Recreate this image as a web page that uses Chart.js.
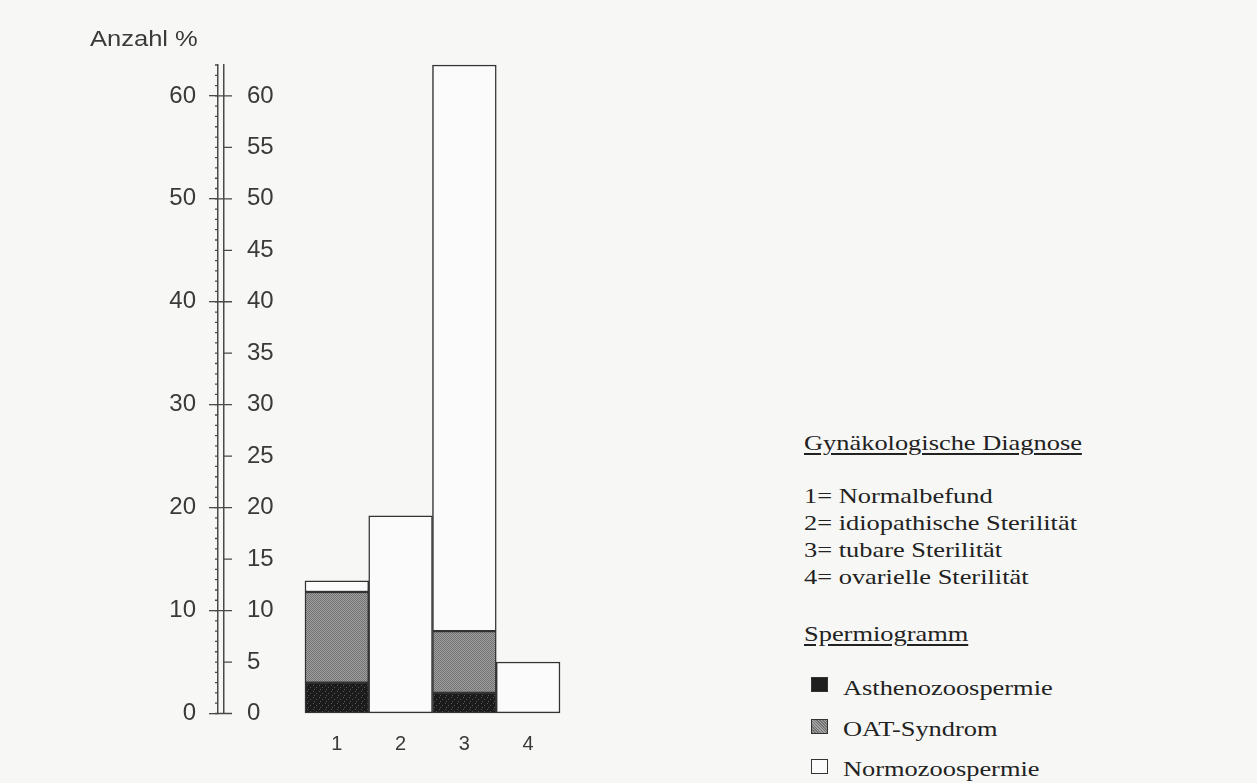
<!DOCTYPE html>
<html>
<head>
  <title>Spermiogramm nach gynäkologischer Diagnose</title>
  <script src="https://cdn.jsdelivr.net/npm/chart.js"></script>
  <style>
    body {
      margin: 0;
      background: #f7f7f5;
      width: 1257px;
      height: 783px;
      position: relative;
      overflow: hidden;
    }
    #wrap {
      position: absolute;
      left: 0;
      top: 0;
      width: 620px;
      height: 783px;
    }
    #yTitle {
      position: absolute;
      left: 90px;
      top: 28px;
      font: 22px 'Liberation Sans', Arial, sans-serif;
      line-height: 22px;
      color: #3a3a3a;
      transform: scaleX(1.16);
      transform-origin: left top;
    }
    .leg {
      position: absolute;
      left: 804px;
      font: 22px 'Liberation Serif', 'Times New Roman', serif;
      line-height: 22px;
      color: #222;
      white-space: nowrap;
      transform: scaleX(1.2);
      transform-origin: left top;
    }
    .head { text-decoration: underline; text-underline-offset: 3px; }
    .sq {
      position: absolute;
      left: 811px;
      width: 15px;
      height: 13px;
      border: 1.5px solid #333;
    }
  </style>
</head>
<body>

<div id="wrap"><canvas id="chart"></canvas></div>
<div id="yTitle">Anzahl %</div>

<div class="leg head" style="top:432px">Gynäkologische Diagnose</div>
<div class="leg" style="top:485px">1= Normalbefund</div>
<div class="leg" style="top:512px">2= idiopathische Sterilität</div>
<div class="leg" style="top:539px">3= tubare Sterilität</div>
<div class="leg" style="top:566px">4= ovarielle Sterilität</div>
<div class="leg head" style="top:623px">Spermiogramm</div>

<div class="sq" style="top:677px; background:#1e1e1e"></div>
<div class="leg" style="top:677px; left:843px">Asthenozoospermie</div>
<div class="sq" style="top:719px; background:repeating-linear-gradient(45deg,#747474 0 1px,#a2a2a2 1px 2px)"></div>
<div class="leg" style="top:718px; left:843px">OAT-Syndrom</div>
<div class="sq" style="top:759px; background:#fbfbfb"></div>
<div class="leg" style="top:758px; left:843px">Normozoospermie</div>

<script>
  // Gynäkologische Diagnose 1..4
  const categories = [1, 2, 3, 4];
  const categoryLabels = ['1', '2', '3', '4'];

  // Spermiogramm, Anzahl %
  const asthenoValues = [3.0, null, 2.0, null];
  const oatValues = [8.8, null, 6.0, null];
  const normoValues = [1.1, 19.2, 55.0, 5.0];

  const outerTicks = [0, 10, 20, 30, 40, 50, 60];
  const innerTicks = [0, 5, 10, 15, 20, 25, 30, 35, 40, 45, 50, 55, 60];
  const minorTicks = Array.from({ length: 64 }, (_, i) => i);

  const axisColor = '#4a4a4a';

  // simple scan-like textures for the filled bars
  function makePattern(size, draw) {
    const c = document.createElement('canvas');
    c.width = size; c.height = size;
    draw(c.getContext('2d'));
    return c.getContext('2d').createPattern(c, 'repeat');
  }
  const oatFill = makePattern(4, g => {
    g.fillStyle = '#a0a0a0';
    g.fillRect(0, 0, 4, 4);
    g.fillStyle = '#727272';
    for (let i = 0; i < 4; i++) {
      g.fillRect(i, (4 - i) % 4, 1, 1);
      g.fillRect(i, (6 - i) % 4, 1, 1);
    }
  });
  const asthenoFill = makePattern(6, g => {
    g.fillStyle = '#1b1b1b';
    g.fillRect(0, 0, 6, 6);
    g.fillStyle = '#5a5a5a';
    g.fillRect(1, 1, 1, 1);
    g.fillRect(4, 3, 1, 1);
    g.fillRect(2, 5, 1, 1);
  });

  const toPoints = arr => categories.map((c, i) => ({ x: c, y: arr[i] }));

  const axisTicks = {
    id: 'axisTicks',
    afterDraw(chart) {
      const { ctx } = chart;
      const outer = chart.scales.y;
      const inner = chart.scales.y2;
      ctx.save();
      ctx.strokeStyle = axisColor;
      ctx.lineWidth = 1.3;
      ctx.beginPath();
      minorTicks.forEach(v => {
        const py = outer.getPixelForValue(v);
        ctx.moveTo(outer.right - 3, py);
        ctx.lineTo(outer.right, py);
      });
      outerTicks.forEach(v => {
        const py = outer.getPixelForValue(v);
        ctx.moveTo(outer.right, py);
        ctx.lineTo(inner.right, py);
      });
      innerTicks.forEach(v => {
        const py = inner.getPixelForValue(v);
        ctx.moveTo(inner.right, py);
        ctx.lineTo(inner.right + 8, py);
      });
      ctx.stroke();
      ctx.restore();
    }
  };

  const barStyle = {
    borderColor: '#333',
    borderWidth: 1.5,
    borderSkipped: false,
    barPercentage: 1,
    categoryPercentage: 1,
    clip: false
  };

  const ctx = document.getElementById('chart').getContext('2d');
  new Chart(ctx, {
    type: 'bar',
    data: {
      datasets: [
        { label: 'Asthenozoospermie', data: toPoints(asthenoValues), backgroundColor: asthenoFill, ...barStyle },
        { label: 'OAT-Syndrom', data: toPoints(oatValues), backgroundColor: oatFill, ...barStyle },
        { label: 'Normozoospermie', data: toPoints(normoValues), backgroundColor: '#fbfbfb', ...barStyle }
      ]
    },
    options: {
      responsive: true,
      maintainAspectRatio: false,
      animation: false,
      layout: { padding: { top: 65, bottom: 29.5, left: 0, right: 60 } },
      plugins: {
        legend: { display: false },
        tooltip: { enabled: false }
      },
      scales: {
        x: {
          type: 'linear',
          stacked: true,
          offset: false,
          min: -0.77,
          max: 4.5,
          afterBuildTicks: s => { s.ticks = categories.map(v => ({ value: v })); },
          afterFit: s => { s.height = 40; },
          ticks: {
            padding: 19,
            color: '#3a3a3a',
            font: { family: "'Liberation Sans', Arial, sans-serif", size: 20 },
            callback: (v) => categoryLabels[categories.indexOf(v)]
          },
          grid: { display: false, drawTicks: false },
          border: { display: false }
        },
        y: {
          position: 'left',
          weight: 2,
          stacked: true,
          min: 0,
          max: 63,
          afterBuildTicks: s => { s.ticks = outerTicks.map(v => ({ value: v })); },
          afterFit: s => { s.width = 218; },
          ticks: {
            padding: 13,
            color: '#3a3a3a',
            font: { family: "'Liberation Sans', Arial, sans-serif", size: 24 }
          },
          grid: { drawOnChartArea: false, tickLength: 9, color: axisColor, lineWidth: 1.3 },
          border: { color: axisColor, width: 1.5 }
        },
        y2: {
          position: 'left',
          weight: 1,
          min: 0,
          max: 63,
          afterBuildTicks: s => { s.ticks = innerTicks.map(v => ({ value: v })); },
          afterFit: s => { s.width = 6; },
          ticks: {
            mirror: true,
            padding: 23,
            color: '#3a3a3a',
            font: { family: "'Liberation Sans', Arial, sans-serif", size: 24 }
          },
          grid: { display: false, drawTicks: false },
          border: { color: axisColor, width: 1.5 }
        }
      }
    },
    plugins: [axisTicks]
  });
</script>

</body>
</html>
